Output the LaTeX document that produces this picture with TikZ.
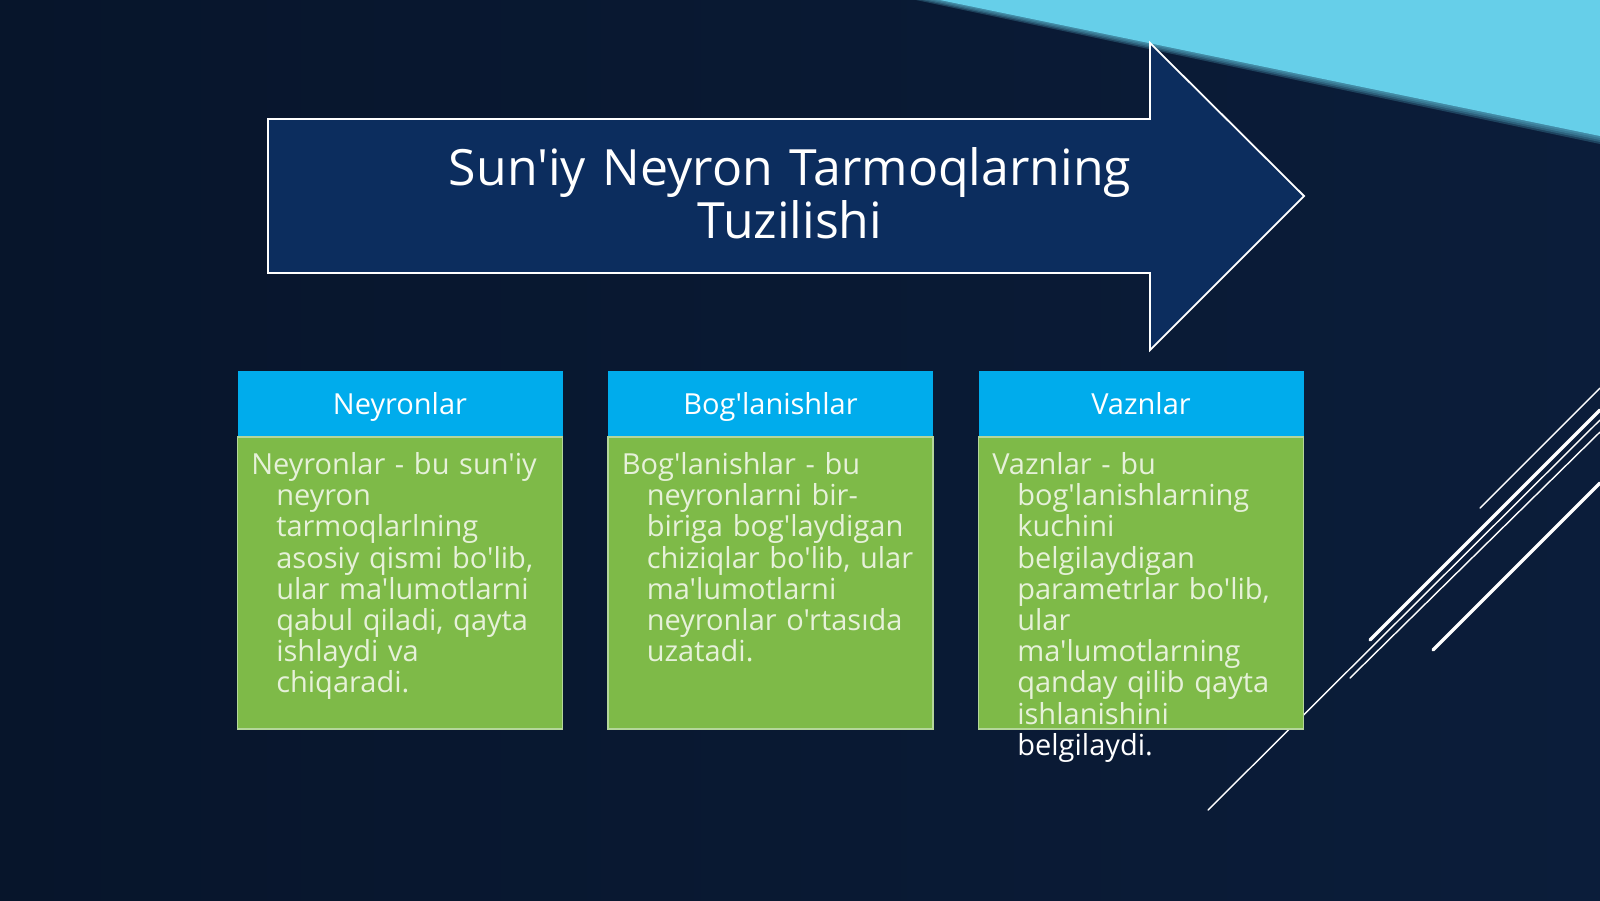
\documentclass[tikz,border=0pt]{standalone}
\usepackage{fontspec}
\setmainfont{Open Sans}[Ligatures=TeXOff]
\usetikzlibrary{positioning}
\definecolor{slidebg}{HTML}{07152B}
\definecolor{slidebgb}{HTML}{0B1D3A}
\definecolor{skyblue}{HTML}{66CFE9}
\definecolor{arrowblue}{HTML}{0C2D5E}
\definecolor{hdrblue}{HTML}{00ACEC}
\definecolor{panelgreen}{HTML}{7EBA48}
\definecolor{panelrim}{HTML}{B4D69A}
\definecolor{paletext}{HTML}{E6F1D9}
\begin{document}
\begin{tikzpicture}[x=0.5pt, y=-0.5pt,
    header/.style={fill=hdrblue, minimum width=162.5pt, minimum height=32.5pt, inner sep=0pt,
        text height=10.5pt, text depth=0pt, text=white, font=\fontsize{14.5}{17}\selectfont},
    panel/.style={fill=panelgreen, draw=panelrim, line width=0.6pt, minimum width=162.5pt,
        minimum height=146pt, inner sep=0pt},
    bodytext/.style={anchor=base west, text width=152pt, align=left, inner sep=0pt,
        text=paletext, font=\fontsize{14.5}{15.6}\selectfont},
    thinline/.style={draw=white, line width=0.7pt, line cap=round},
    thickline/.style={draw=white, line width=1.7pt, line cap=round}]

    % Draw the background
    \useasboundingbox (0,0) rectangle (1600,900);
    \shade[left color=slidebg, right color=slidebgb] (0,0) rectangle (1600,900);
    \foreach \d in {8,6,4,2}
        \fill[skyblue, opacity=0.22] (940-3*\d,0) -- (1600,0) -- (1600,136+\d) -- cycle;
    \fill[skyblue] (940,0) -- (1600,0) -- (1600,136) -- cycle;

    % Draw the big arrow with the title
    \draw[fill=arrowblue, draw=white, line width=0.9pt]
        (268,119) -- (1150,119) -- (1150,43) -- (1304,196) -- (1150,350) -- (1150,273) -- (268,273) -- cycle;
    \node[anchor=base, text width=400pt, align=center, inner sep=0pt, text=white,
        font=\fontsize{25}{26.5}\selectfont] (title) at (790,185) {Sun'iy Neyron Tarmoqlarning\\Tuzilishi};

    % Draw the lines on the right
    \draw[thinline] (1480,508) -- (1600,388);
    \draw[thickline] (1370,640) -- (1600,410);
    \draw[thinline] (1208,810) -- (1600,420);
    \draw[thinline] (1350,678) -- (1600,432);
    \draw[thickline] (1433,650) -- (1600,483);

    % Draw the three headers and their panels
    \node[header] (hdrA) at (400,403.5) {Neyronlar};
    \node[header] (hdrB) at (770.5,403.5) {Bog'lanishlar};
    \node[header] (hdrC) at (1141,403.5) {Vaznlar};

    \node[panel, below=0pt of hdrA] (panelA) {};
    \node[panel, below=0pt of hdrB] (panelB) {};
    \node[panel, below=0pt of hdrC] (panelC) {};

    % Fill the panels with text
    \node[bodytext, xshift=7pt, yshift=-19pt] (txtA) at (panelA.north west)
        {\hangindent=12.5pt\hangafter=1 Neyronlar - bu sun'iy\newline neyron\newline tarmoqlarlning\newline
        asosiy qismi bo'lib,\newline ular ma'lumotlarni\newline qabul qiladi, qayta\newline ishlaydi va\newline chiqaradi.\par};
    \node[bodytext, xshift=7pt, yshift=-19pt] (txtB) at (panelB.north west)
        {\hangindent=12.5pt\hangafter=1 Bog'lanishlar - bu\newline neyronlarni bir-\newline biriga bog'laydigan\newline
        chiziqlar bo'lib, ular\newline ma'lumotlarni\newline neyronlar o'rtasıda\newline uzatadi.\par};
    \node[bodytext, xshift=7pt, yshift=-19pt] (txtC) at (panelC.north west)
        {\hangindent=12.5pt\hangafter=1 Vaznlar - bu\newline bog'lanishlarning\newline kuchini\newline belgilaydigan\newline
        parametrlar bo'lib,\newline ular\newline ma'lumotlarning\newline qanday qilib qayta\newline ishlanishini\newline
        {\color{white}belgilaydi.}\par};
\end{tikzpicture}
\end{document}
